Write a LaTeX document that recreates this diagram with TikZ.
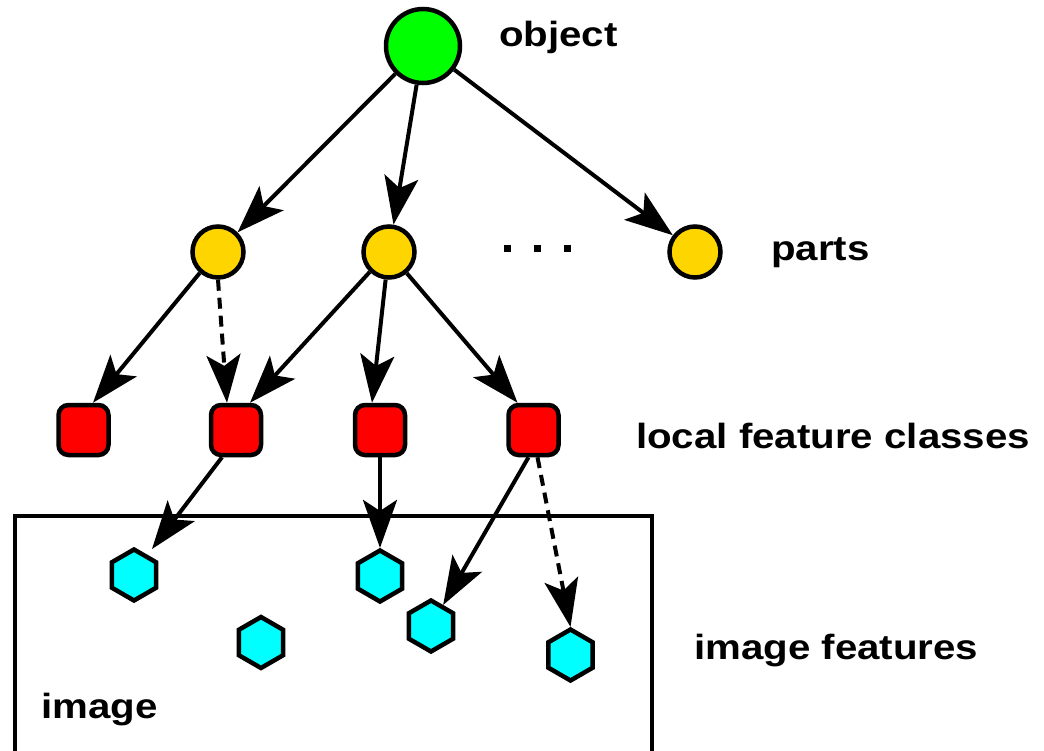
\documentclass[tikz,border=0pt]{standalone}
\usepackage{fontspec}
\setmainfont{Liberation Sans}[FakeStretch=1.15]
\usetikzlibrary{shapes.geometric,arrows.meta}
\definecolor{objgreen}{HTML}{00FF00}
\definecolor{partyellow}{HTML}{FFD500}
\definecolor{clsred}{HTML}{FF0000}
\definecolor{featcyan}{HTML}{00FFFF}
\begin{document}
\begin{tikzpicture}[x=1pt,y=-1pt,
  conn/.style={line width=4pt, -{Stealth[length=48pt,width=34pt,inset=11pt]}},
  dashconn/.style={conn, dash pattern=on 11pt off 7pt},
  objnode/.style={circle, draw, line width=4.5pt, fill=objgreen, minimum size=74pt, inner sep=0pt},
  partnode/.style={circle, draw, line width=4.5pt, fill=partyellow, minimum size=51pt, inner sep=0pt},
  clsnode/.style={rectangle, rounded corners=10pt, draw, line width=4.5pt, fill=clsred, minimum size=50pt, inner sep=0pt},
  featnode/.style={regular polygon, regular polygon sides=6, shape border rotate=30, draw, line width=4.5pt, fill=featcyan, minimum size=51pt, inner sep=0pt},
  lbl/.style={font=\fontsize{35}{40}\selectfont\bfseries, inner sep=0pt, anchor=base west},
  dotnode/.style={rectangle, fill=black, minimum size=7pt, inner sep=0pt}]
\useasboundingbox (0,0) rectangle (1044,750);

% image frame
\draw[line width=4pt] (15,760) -- (15,516) -- (652,516) -- (652,760);

% nodes
\node[objnode] (o) at (423,46) {};
\node[partnode] (p1) at (218,252) {};
\node[partnode] (p2) at (389,252) {};
\node[partnode] (p3) at (695,252) {};
\node[dotnode] (d1) at (507,248) {};
\node[dotnode] (d2) at (537,248) {};
\node[dotnode] (d3) at (567,248) {};
\node[clsnode] (c1) at (83.5,430) {};
\node[clsnode] (c2) at (236,430) {};
\node[clsnode] (c3) at (380,430) {};
\node[clsnode] (c4) at (533.5,430) {};
\node[featnode] (f1) at (134,575) {};
\node[featnode] (f2) at (380,576) {};
\node[featnode] (f3) at (261,642.5) {};
\node[featnode] (f4) at (431,626) {};
\node[featnode] (f5) at (570.5,655) {};

% labels
\node[lbl] (tobj) at (499,46) {object};
\node[lbl] (tparts) at (771,260) {parts};
\node[lbl] (tlfc) at (636,448.5) {local feature classes};
\node[lbl] (timf) at (694,659) {image features};
\node[lbl] (timg) at (41,718) {image};

% connectors
\draw[conn] (o) -- (p1);
\draw[conn] (o) -- (p2);
\draw[conn] (o) -- (p3);
\draw[conn] (p1.229) -- ([xshift=9.5pt]c1.north);
\draw[dashconn] (p1.south) -- ([xshift=-9pt]c2.north);
\draw[conn] (p2.226) -- ([xshift=14pt]c2.north);
\draw[conn] (p2.263) -- ([xshift=-8pt]c3.north);
\draw[conn] (p2.310) -- ([xshift=-16pt]c4.north);
\draw[conn] ([xshift=-14pt]c2.south) -- ([xshift=18pt,yshift=26pt]f1.center);
\draw[conn] (c3) -- (f2);
\draw[conn] ([xshift=-5pt]c4.south) -- (f4.60);
\draw[dashconn] ([xshift=4pt]c4.south) -- (f5.north);
\end{tikzpicture}
\end{document}
